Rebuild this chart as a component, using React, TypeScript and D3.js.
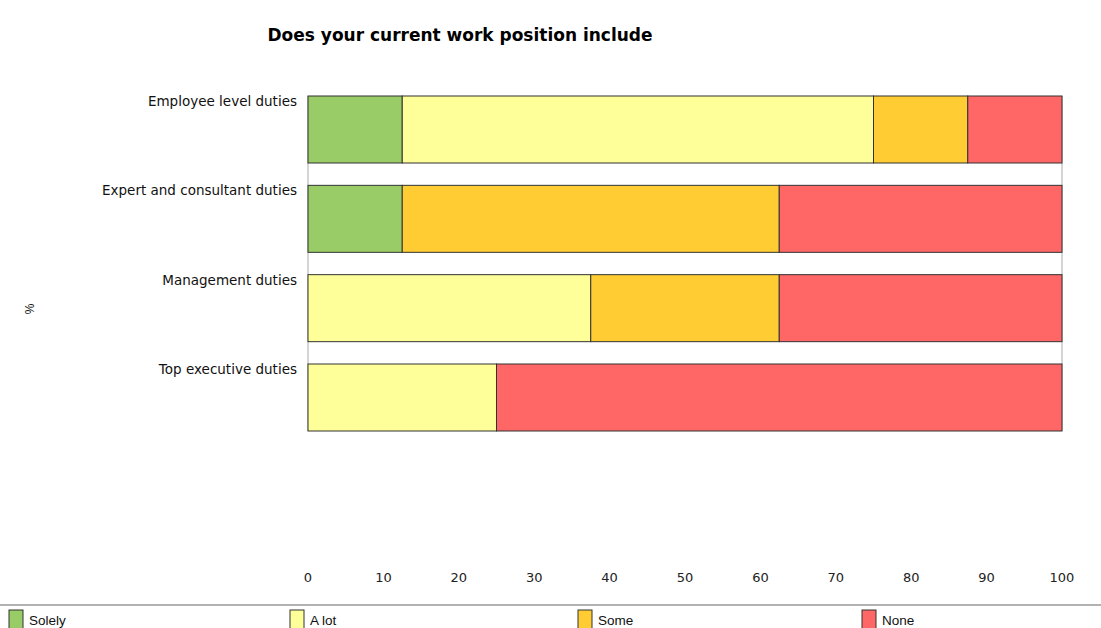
import React from "react";
import * as d3 from "d3";

const categories = ["Employee level duties", "Expert and consultant duties", "Management duties", "Top executive duties"];
const seriesNames = ["Solely", "A lot", "Some", "None"];
const solely = [12.5, 12.5, 0, 0];
const aLot = [62.5, 0, 37.5, 25];
const some = [12.5, 50, 25, 0];
const none = [12.5, 37.5, 37.5, 75];
const ticks = [0, 10, 20, 30, 40, 50, 60, 70, 80, 90, 100];
const colors = ["#99cc66", "#ffff99", "#ffcc33", "#ff6666"];

export default function App() {
  const W = 1101, H = 628;
  const x = d3.scaleLinear().domain([0, 100]).range([308, 1062]);
  const y = d3.scaleBand<string>().domain(categories).range([96, 431]).paddingInner(0.25).paddingOuter(0);
  const rows = categories.map((c, i) => ({ cat: c, Solely: solely[i], "A lot": aLot[i], Some: some[i], None: none[i] }));
  const stack = d3.stack<any>().keys(seriesNames)(rows);
  const legendX = [9, 290, 578, 862];
  return (
    <svg width={W} height={H} style={{ position: "absolute", left: 0, top: 0, background: "#fff" }}
      fontFamily="'Liberation Sans', Arial, sans-serif">
      <text x={460} y={41} textAnchor="middle" fontSize={17} fontWeight="bold"
        textLength={385} lengthAdjust="spacingAndGlyphs"
        fontFamily="'DejaVu Sans Condensed', 'Liberation Sans Narrow', sans-serif">
        Does your current work position include
      </text>
      <line x1={308} x2={308} y1={96} y2={431} stroke="#aaa" />
      <line x1={1062} x2={1062} y1={96} y2={431} stroke="#aaa" />
      {stack.map((s, si) => s.map((d, i) => {
        const w = x(d[1]) - x(d[0]);
        if (w <= 0) return null;
        return (
          <rect key={si + "-" + i} x={x(d[0])} y={y(categories[i])} width={w} height={y.bandwidth()}
            fill={colors[si]} stroke="#333" strokeWidth={1} />
        );
      }))}
      {categories.map(c => (
        <text key={c} x={297} y={(y(c) as number) + 10} textAnchor="end" fontSize={13.5} fill="#111"
          fontFamily="'DejaVu Sans', sans-serif">{c}</text>
      ))}
      <text transform="translate(34,309) rotate(-90)" textAnchor="middle" fontSize={12} fill="#111">%</text>
      {ticks.map(t => (
        <text key={t} x={x(t)} y={582} textAnchor="middle" fontSize={13} fill="#222"
          fontFamily="'DejaVu Sans', sans-serif">{t}</text>
      ))}
      <line x1={0} x2={W} y1={605} y2={605} stroke="#999" strokeWidth={1.5} />
      {seriesNames.map((n, i) => (
        <g key={n}>
          <rect x={legendX[i]} y={610} width={14} height={19} fill={colors[i]} stroke="#333" />
          <text x={legendX[i] + 20} y={625} fontSize={13.5} fill="#111">{n}</text>
        </g>
      ))}
    </svg>
  );
}
